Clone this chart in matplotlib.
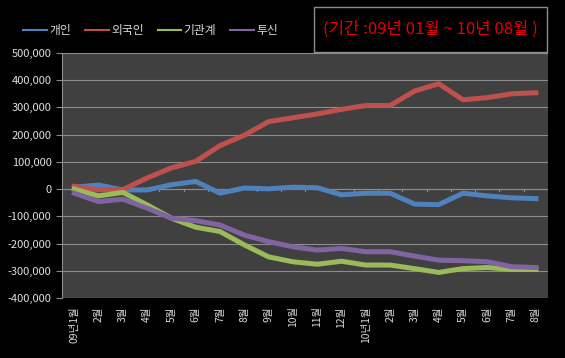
import matplotlib
matplotlib.use('Agg')
import matplotlib.pyplot as plt
from matplotlib.ticker import FuncFormatter
from matplotlib.patches import Rectangle

plt.rcParams['font.family'] = ['Noto Sans CJK KR', 'DejaVu Sans']

# month labels, Jan 2009 .. Aug 2010
months = ['09년1월', '2월', '3월', '4월', '5월', '6월', '7월', '8월', '9월', '10월',
          '11월', '12월', '10년1월', '2월', '3월', '4월', '5월', '6월', '7월', '8월']

individual = [7000, 15000, -3000, -3000, 16000, 28000, -15000, 4000, 1000, 7000,
              5000, -21000, -15000, -15000, -55000, -57000, -15000, -25000, -32000, -35000]
foreign = [10000, -3000, -2000, 41000, 78000, 102000, 160000, 198000, 248000, 262000,
           276000, 293000, 307000, 307000, 360000, 387000, 328000, 336000, 350000, 354000]
institution = [0, -25000, -12000, -58000, -107000, -140000, -156000, -205000, -249000, -267000,
               -276000, -265000, -279000, -279000, -292000, -306000, -292000, -288000, -295000, -295000]
trust = [-15000, -46000, -37000, -70000, -107000, -116000, -132000, -169000, -193000, -212000,
         -224000, -218000, -230000, -230000, -246000, -261000, -263000, -267000, -285000, -288000]

series = [('개인', individual, '#4f81bd'),
          ('외국인', foreign, '#c0504d'),
          ('기관계', institution, '#9bbb59'),
          ('투신', trust, '#8064a2')]

fig = plt.figure(figsize=(5.65, 3.58), dpi=100, facecolor='black')
ax = fig.add_axes([0.110, 0.1676, 0.860, 0.6844])
ax.set_facecolor('#404040')

x = list(range(len(months)))
for name, vals, color in series:
    ax.plot(x, vals, color=color, lw=3.6, label=name, solid_joinstyle='round')

ax.set_xlim(-0.5, len(months) - 0.5)
ax.set_ylim(-400000, 500000)
ax.set_yticks(range(-400000, 500001, 100000))
ax.yaxis.set_major_formatter(FuncFormatter(lambda v, p: f'{int(v):,}'))
ax.grid(axis='y', color='#8c8c8c', lw=0.8)
ax.set_axisbelow(True)

# category axis crossing at zero, labels kept at the bottom
ax.axhline(0, color='#8c8c8c', lw=0.8, zorder=1)
for b in range(1, len(months)):
    ax.plot([b - 0.5, b - 0.5], [0, -8000], color='#8c8c8c', lw=0.8, zorder=1)

ax.set_xticks(x)
ax.set_xticklabels(months, rotation=90, fontsize=7.5, color='#d9d9d9', va='top')
ax.tick_params(axis='x', length=0, pad=6)
ax.tick_params(axis='y', colors='#8c8c8c', labelcolor='#e0e0e0', labelsize=8, length=4)

for side in ['top', 'right', 'bottom']:
    ax.spines[side].set_visible(False)
ax.spines['left'].set_color('#8c8c8c')

leg = fig.legend(loc='center left', bbox_to_anchor=(0.022, 0.915), ncol=4, frameon=False,
                 fontsize=8.5, handlelength=2.0, handletextpad=0.2, columnspacing=1.2,
                 labelcolor='#d9d9d9')
for h in leg.legend_handles:
    h.set_linewidth(1.5)

fig.patches.append(Rectangle((0.555, 0.855), 0.413, 0.125, transform=fig.transFigure,
                             fill=False, edgecolor='#8c8c8c', lw=1))
fig.text(0.761, 0.918, '(기간 :09년 01월 ~ 10년 08월 )', color='#e00000',
         fontsize=12, ha='center', va='center')

fig.savefig('out.png', dpi=100, facecolor='black')
